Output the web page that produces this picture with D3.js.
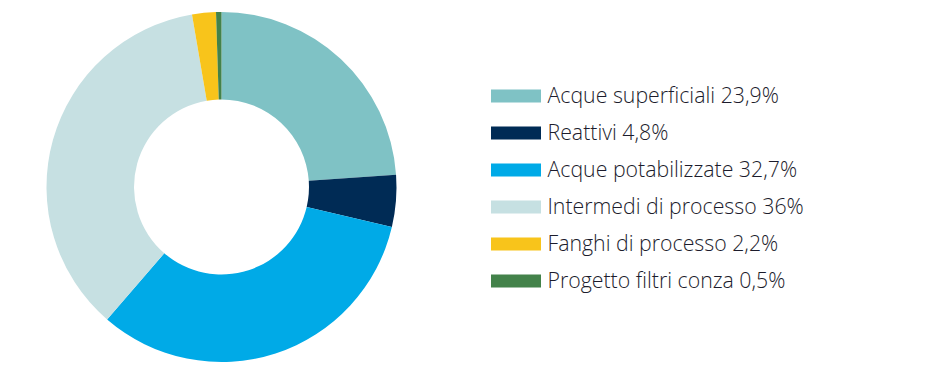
<!DOCTYPE html>
<html>
<head>
<meta charset="utf-8">
<script src="https://cdn.jsdelivr.net/npm/d3@7"></script>
<style>
  body { margin: 0; background: #fff; }
  svg { display: block; }
</style>
</head>
<body>
<div id="container"></div>
<script>
/* CONSTANTS AND GLOBALS */
const width = 930,
  height = 378
const cx = 221.5, cy = 187
const outerRadius = 175, innerRadius = 87.5

/* DATA */
const categories = ["Acque superficiali", "Reattivi", "Acque potabilizzate", "Intermedi di processo", "Fanghi di processo", "Progetto filtri conza"]
const values = [23.9, 4.8, 32.7, 36, 2.2, 0.5]
const valueLabels = ["23,9%", "4,8%", "32,7%", "36%", "2,2%", "0,5%"]
const colors = ["#7fc2c5", "#002b55", "#00aae7", "#c6e0e2", "#f8c41b", "#43824a"]

const data = categories.map((c, i) => ({ name: c, value: values[i], label: valueLabels[i] }))

/* SCALES */
const color = d3.scaleOrdinal().domain(categories).range(colors)

const svg = d3.select("#container")
  .append("svg")
  .attr("width", width)
  .attr("height", height)

const pie = d3.pie()
  .value(d => d.value)
  .sort(null)

const arc = d3.arc()
  .innerRadius(innerRadius)
  .outerRadius(outerRadius)

// donut
svg.append("g")
  .attr("transform", `translate(${cx},${cy})`)
  .selectAll("path")
  .data(pie(data))
  .join("path")
  .attr("d", arc)
  .attr("fill", d => color(d.data.name))

// legend
const legendY = d3.scaleBand()
  .domain(categories)
  .range([77.5, 299.5])

const legend = svg.append("g")
  .selectAll("g")
  .data(data)
  .join("g")
  .attr("transform", d => `translate(491,${legendY(d.name) + legendY.bandwidth() / 2})`)

legend.append("rect")
  .attr("x", 0)
  .attr("y", -6.5)
  .attr("width", 50)
  .attr("height", 13)
  .attr("fill", d => color(d.name))

legend.append("text")
  .attr("x", 56.5)
  .attr("y", 7)
  .style("font-family", "'Open Sans', sans-serif")
  .style("font-weight", 300)
  .style("font-size", "21.3px")
  .style("fill", "#1c1c2c")
  .text(d => `${d.name} ${d.label}`)
</script>
</body>
</html>
